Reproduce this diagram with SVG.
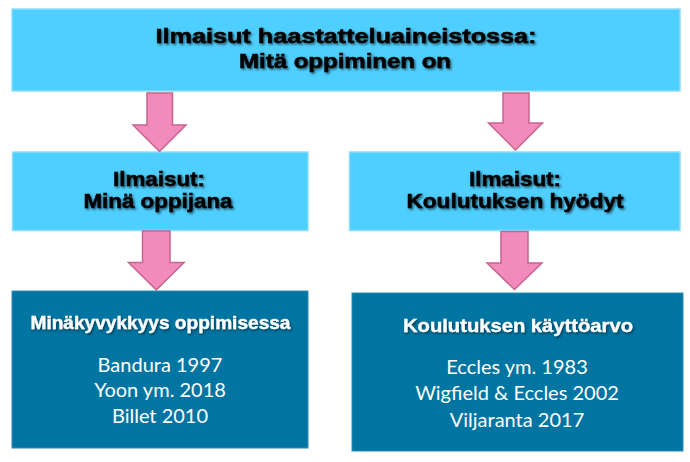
<svg xmlns="http://www.w3.org/2000/svg" width="690" height="462" viewBox="0 0 690 462">
  <defs>
    <filter id="shadowDark" x="-10%" y="-30%" width="120%" height="160%">
      <feDropShadow dx="1.5" dy="1.5" stdDeviation="1.1" flood-color="#000" flood-opacity="0.6"/>
    </filter>
    <filter id="shadowWhite" x="-10%" y="-30%" width="120%" height="160%">
      <feDropShadow dx="1.2" dy="1.5" stdDeviation="1" flood-color="#002030" flood-opacity="0.7"/>
    </filter>
  </defs>
  <style>
    .light { fill: #4FCFFF; stroke: #8ADFFF; stroke-width: 1.5; }
    .dark { fill: #0075A1; stroke: #2C8DB3; stroke-width: 1; }
    .ttl { font-family: "Liberation Sans", Arial, sans-serif; font-weight: bold; fill: #000; stroke: #000; stroke-width: 0.5; text-anchor: middle; filter: url(#shadowDark); }
    .wttl { font-family: "Liberation Sans", Arial, sans-serif; font-weight: bold; fill: #fff; stroke: #fff; stroke-width: 0.3; text-anchor: middle; font-size: 17.5px; filter: url(#shadowWhite); }
    .ref { font-family: Lato, "Open Sans", sans-serif; fill: #fff; text-anchor: middle; font-size: 20px; }
    .arrow { fill: #F28ABB; stroke: #C5648F; stroke-width: 1.5; stroke-linejoin: miter; }
  </style>
  <rect width="690" height="462" fill="#fff"/>

  <g id="top">
    <rect class="light" x="12" y="9" width="668" height="82"/>
    <text class="ttl" x="346" y="42.5" font-size="20" textLength="381" lengthAdjust="spacingAndGlyphs">Ilmaisut haastatteluaineistossa:</text>
    <text class="ttl" x="345" y="67.5" font-size="20" textLength="212" lengthAdjust="spacingAndGlyphs">Mitä oppiminen on</text>
  </g>

  <g id="mid-left">
    <rect class="light" x="12.5" y="152" width="295.5" height="78.5"/>
    <text class="ttl" x="159" y="185.7" font-size="21" textLength="92" lengthAdjust="spacingAndGlyphs">Ilmaisut:</text>
    <text class="ttl" x="158" y="208" font-size="21" textLength="149" lengthAdjust="spacingAndGlyphs">Minä oppijana</text>
  </g>

  <g id="mid-right">
    <rect class="light" x="349.5" y="152" width="330.5" height="78.5"/>
    <text class="ttl" x="515" y="185.7" font-size="21" textLength="92" lengthAdjust="spacingAndGlyphs">Ilmaisut:</text>
    <text class="ttl" x="515" y="208" font-size="21" textLength="217" lengthAdjust="spacingAndGlyphs">Koulutuksen hyödyt</text>
  </g>

  <g id="bottom-left">
    <rect class="dark" x="12" y="291" width="296" height="157"/>
    <text class="wttl" x="160.5" y="328.8" textLength="260" lengthAdjust="spacingAndGlyphs">Minäkyvykkyys oppimisessa</text>
    <text class="ref" x="160" y="371.6">Bandura 1997</text>
    <text class="ref" x="160" y="397.2">Yoon ym. 2018</text>
    <text class="ref" x="160" y="423">Billet 2010</text>
  </g>

  <g id="bottom-right">
    <rect class="dark" x="352" y="293" width="331" height="158"/>
    <text class="wttl" x="518" y="332.2" textLength="230" lengthAdjust="spacingAndGlyphs">Koulutuksen käyttöarvo</text>
    <text class="ref" x="517" y="373.6">Eccles ym. 1983</text>
    <text class="ref" x="517" y="400.2">Wigfield &amp; Eccles 2002</text>
    <text class="ref" x="517" y="427.1">Viljaranta 2017</text>
  </g>

  <g id="connectors">
    <path class="arrow" d="M147,93 H172.5 V125 H186 L159.5,151.5 L133,125 H147 Z"/>
    <path class="arrow" d="M503,93 H529 V123 H542.5 L515.5,150 L488.5,123 H503 Z"/>
    <path class="arrow" d="M142.5,231 H170 V262.5 H184 L156.3,290 L128.5,262.5 H142.5 Z"/>
    <path class="arrow" d="M501,231.5 H528 V263 H542 L514.5,289.5 L487,263 H501 Z"/>
  </g>
</svg>
